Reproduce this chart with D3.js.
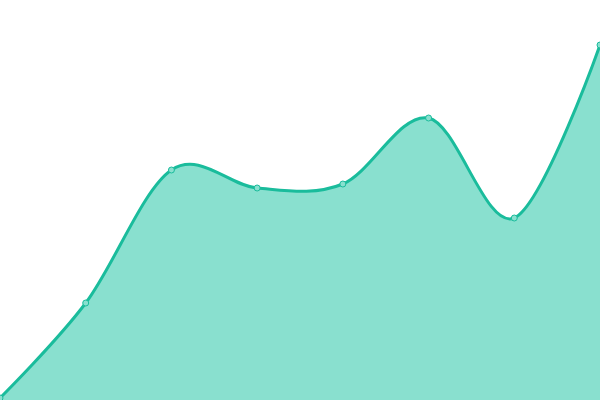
<!DOCTYPE html>
<html>
<head>
<meta charset="utf-8">
<script src="https://cdn.jsdelivr.net/npm/d3@7"></script>
<style>
  body { margin: 0; background: #fff; }
</style>
</head>
<body>
<div id="chart"></div>
<script>
// data
const labels = ["1", "2", "3", "4", "5", "6", "7", "8"];
const values = [2, 97, 230, 212, 216, 282, 182, 355];

const width = 600, height = 400;

const svg = d3.select("#chart")
  .append("svg")
    .attr("width", width)
    .attr("height", height);

const x = d3.scalePoint()
  .domain(labels)
  .range([0, width]);

const y = d3.scaleLinear()
  .domain([0, 400])
  .range([height, 0]);

const data = labels.map((l, i) => ({label: l, value: values[i]}));

// filled area
svg.append("path")
  .datum(data)
  .attr("fill", "#89e0cf")
  .attr("d", d3.area()
    .curve(d3.curveCardinal)
    .x(d => x(d.label))
    .y0(height)
    .y1(d => y(d.value)));

// line on top
svg.append("path")
  .datum(data)
  .attr("fill", "none")
  .attr("stroke", "#1abc9c")
  .attr("stroke-width", 3)
  .attr("d", d3.line()
    .curve(d3.curveCardinal)
    .x(d => x(d.label))
    .y(d => y(d.value)));

// the points
svg.append("g")
  .selectAll("circle")
  .data(data)
  .join("circle")
    .attr("cx", d => x(d.label))
    .attr("cy", d => y(d.value))
    .attr("r", 3)
    .attr("fill", "#89e0cf")
    .attr("stroke", "#1abc9c")
    .attr("stroke-width", 1);
</script>
</body>
</html>
